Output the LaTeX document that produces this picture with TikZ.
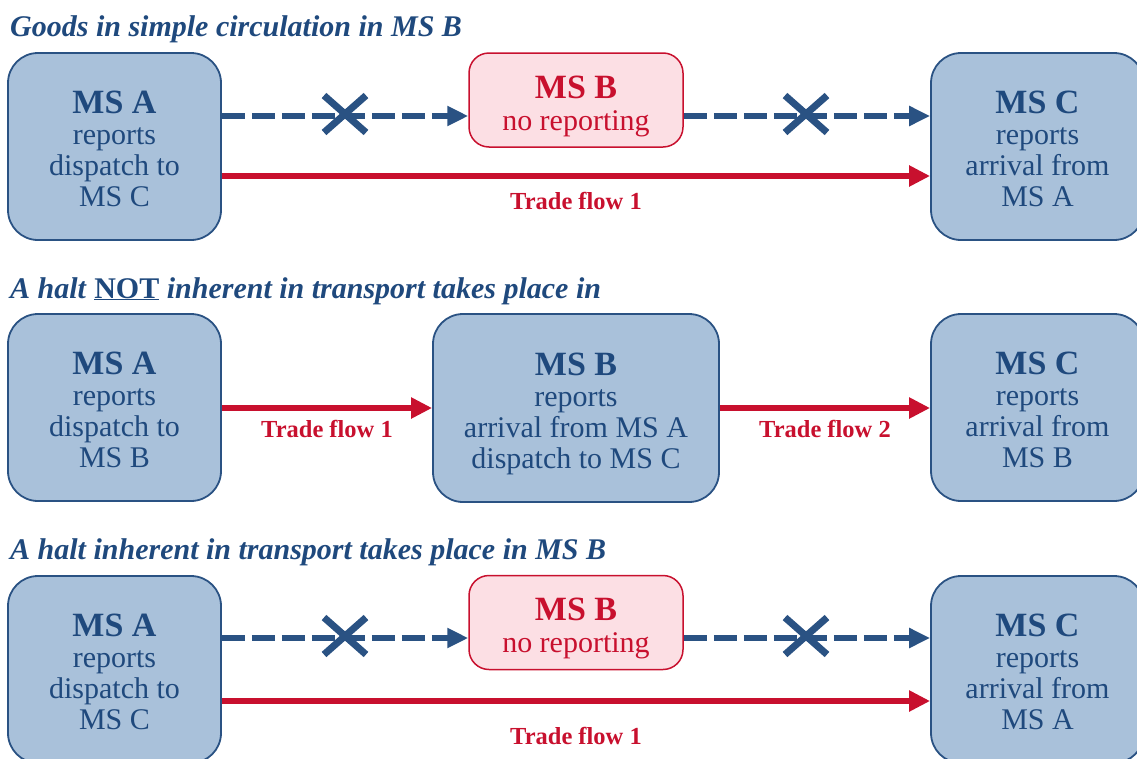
\documentclass[tikz,border=0pt]{standalone}
\usepackage{fontspec}
\setmainfont{Liberation Serif}
\usetikzlibrary{arrows.meta}

\definecolor{boxfill}{HTML}{A9C1DA}
\definecolor{boxline}{HTML}{2A5283}
\definecolor{navy}{HTML}{1F497D}
\definecolor{crimson}{HTML}{C8102E}
\definecolor{pinkfill}{HTML}{FCDFE4}

\tikzset{
  msbox/.style={draw=boxline, line width=1.8pt, fill=boxfill, rounded corners=30pt,
    minimum width=213pt, minimum height=187pt, inner sep=0pt},
  widebox/.style={msbox, minimum width=286pt, minimum height=188pt},
  nobox/.style={draw=crimson, line width=1.5pt, fill=pinkfill, rounded corners=20pt,
    minimum width=214pt, minimum height=94pt, inner sep=0pt},
  boxtext/.style={text=navy, align=center, inner sep=0pt,
    font=\fontsize{30}{31}\selectfont},
  notext/.style={text=crimson, align=center, inner sep=0pt,
    font=\fontsize{30}{32}\selectfont},
  heading/.style={anchor=base west, text=navy, inner sep=0pt,
    font=\fontsize{30}{30}\selectfont\bfseries\itshape},
  flow/.style={draw=crimson, line width=6pt, -{Triangle[length=21pt,width=20pt]}},
  skipped/.style={draw=boxline, line width=6pt, dash pattern=on 23pt off 7pt,
    -{Triangle[length=21pt,width=19pt]}},
  flowlabel/.style={text=crimson, font=\fontsize{24.5}{25}\selectfont\bfseries,
    anchor=base, inner sep=0pt},
  crossmark/.pic={\draw[boxline, line width=7pt]
    (-21pt,-18.5pt) -- (21pt,18.5pt) (-21pt,18.5pt) -- (21pt,-18.5pt);}
}

\newcommand{\msname}[1]{{\fontsize{34}{31}\selectfont\bfseries #1}}

\begin{document}
\begin{tikzpicture}[x=1pt, y=-1pt]
\useasboundingbox (0,0) rectangle (1137,758);
\clip (0,0) rectangle (1137,758);

% ---- Goods in simple circulation ----
\node[heading] (t1) at (10,36) {Goods in simple circulation in MS B};
\node[msbox] (a1) at (114.5,146.5) {};
\node[boxtext] (a1t) at ([yshift=-2.5pt]a1.center) {\msname{MS A}\\reports\\dispatch to\\MS C};
\node[nobox] (b1) at (576,100) {};
\node[notext] (b1t) at ([yshift=-6pt]b1.center) {\msname{MS B}\\no reporting};
\node[msbox] (c1) at (1037.5,146.5) {};
\node[boxtext] (c1t) at ([yshift=-2.5pt]c1.center) {\msname{MS C}\\reports\\arrival from\\MS A};

\draw[skipped] (a1.east |- 0,116) -- (b1.west |- 0,116);
\draw[skipped] (b1.east |- 0,116) -- (c1.west |- 0,116);
\pic at (345,114) {crossmark};
\pic at (806,114) {crossmark};
\draw[flow] (a1.east |- 0,176) -- node[flowlabel, yshift=-33pt] (f1) {Trade flow 1} (c1.west |- 0,176);

% ---- Halt not inherent in transport ----
\node[heading] (t2) at (10,298) {A halt \textup{\underline{NOT}} inherent in transport takes place in};
\node[msbox] (a2) at (114.5,407.5) {};
\node[boxtext] (a2t) at ([yshift=-2.5pt]a2.center) {\msname{MS A}\\reports\\dispatch to\\MS B};
\node[widebox] (b2) at (576,408) {};
\node[boxtext] (b2t) at ([yshift=-6pt]b2.center) {\msname{MS B}\\reports\\arrival from MS A\\dispatch to MS C};
\node[msbox] (c2) at (1037.5,407.5) {};
\node[boxtext] (c2t) at ([yshift=-2.5pt]c2.center) {\msname{MS C}\\reports\\arrival from\\MS B};

\draw[flow] (a2.east |- 0,408) -- node[flowlabel, yshift=-29pt] (f2) {Trade flow 1} (b2.west |- 0,408);
\draw[flow] (b2.east |- 0,408) -- node[flowlabel, yshift=-29pt] (f3) {Trade flow 2} (c2.west |- 0,408);

% ---- Halt inherent in transport ----
\node[heading] (t3) at (10,559) {A halt inherent in transport takes place in MS B};
\node[msbox] (a3) at (114.5,669.5) {};
\node[boxtext] (a3t) at ([yshift=-2.5pt]a3.center) {\msname{MS A}\\reports\\dispatch to\\MS C};
\node[nobox] (b3) at (576,622.5) {};
\node[notext] (b3t) at ([yshift=-6pt]b3.center) {\msname{MS B}\\no reporting};
\node[msbox] (c3) at (1037.5,669.5) {};
\node[boxtext] (c3t) at ([yshift=-2.5pt]c3.center) {\msname{MS C}\\reports\\arrival from\\MS A};

\draw[skipped] (a3.east |- 0,638) -- (b3.west |- 0,638);
\draw[skipped] (b3.east |- 0,638) -- (c3.west |- 0,638);
\pic at (345,636) {crossmark};
\pic at (806,636) {crossmark};
\draw[flow] (a3.east |- 0,701) -- node[flowlabel, yshift=-43pt] (f4) {Trade flow 1} (c3.west |- 0,701);
\end{tikzpicture}
\end{document}
